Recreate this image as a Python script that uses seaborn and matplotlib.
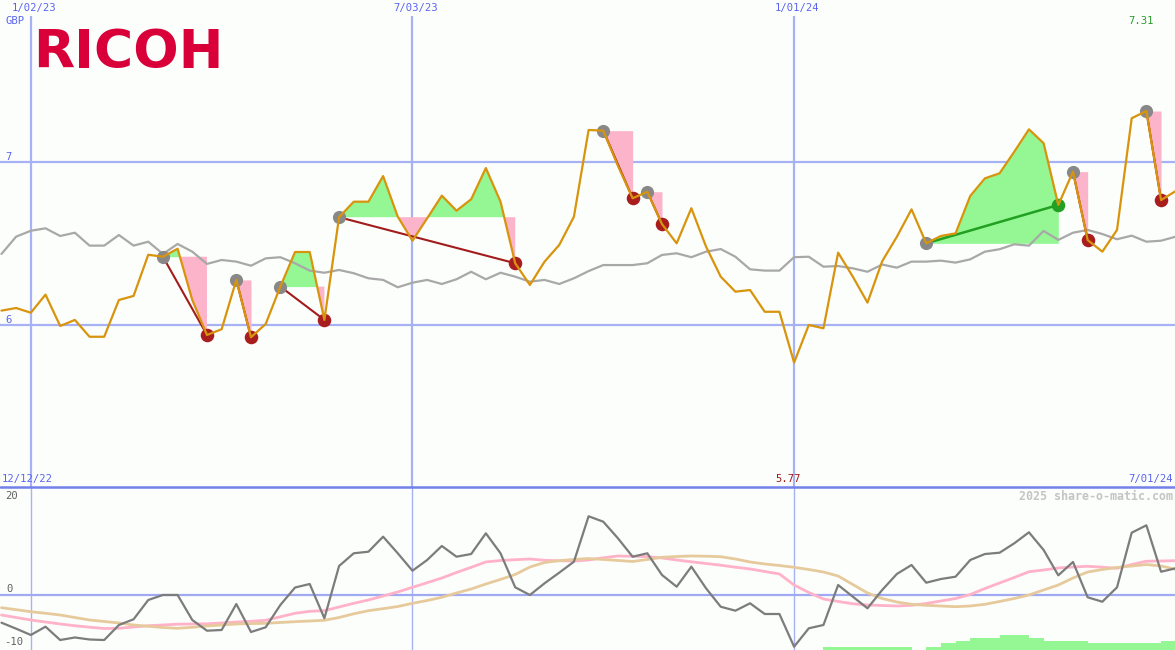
import numpy as np
import pandas as pd
import matplotlib
matplotlib.use("Agg")
import matplotlib.pyplot as plt
from matplotlib.lines import Line2D
import seaborn as sns

# ---------------- data (weekly points) ----------------
price = [6.088, 6.104, 6.075, 6.186, 5.994, 6.031, 5.928, 5.928, 6.153, 6.178,
         6.43, 6.418, 6.467, 6.153, 5.939, 5.974, 6.276, 5.925, 6.006, 6.235,
         6.447, 6.447, 6.031, 6.66, 6.755, 6.755, 6.912, 6.663, 6.516, 6.653,
         6.792, 6.7, 6.77, 6.961, 6.755, 6.378, 6.245, 6.388, 6.49, 6.663,
         7.194, 7.19, 6.974, 6.776, 6.816, 6.618, 6.5, 6.715, 6.48, 6.296,
         6.204, 6.214, 6.081, 6.081, 5.77, 6.0, 5.98, 6.443, 6.296, 6.137,
         6.39, 6.54, 6.708, 6.5, 6.545, 6.561, 6.79, 6.898, 6.929, 7.061,
         7.198, 7.113, 6.735, 6.939, 6.52, 6.449, 6.582, 7.266, 7.31, 6.765, 6.82]

avg = [6.435, 6.541, 6.577, 6.592, 6.545, 6.565, 6.486, 6.486, 6.551, 6.486,
       6.51, 6.435, 6.496, 6.449, 6.374, 6.398, 6.388, 6.363, 6.408, 6.415,
       6.378, 6.333, 6.32, 6.337, 6.317, 6.286, 6.276, 6.231, 6.259, 6.276,
       6.251, 6.28, 6.326, 6.28, 6.32, 6.296, 6.265, 6.276, 6.251, 6.286,
       6.33, 6.367, 6.367, 6.367, 6.378, 6.429, 6.439, 6.415, 6.449, 6.465,
       6.418, 6.341, 6.333, 6.333, 6.415, 6.418, 6.357, 6.361, 6.347, 6.326,
       6.37, 6.351, 6.388, 6.388, 6.394, 6.382, 6.402, 6.449, 6.464, 6.494,
       6.486, 6.576, 6.521, 6.565, 6.582, 6.557, 6.525, 6.547, 6.51, 6.516, 6.541]

osc = [-5.77, -7.02, -8.33, -6.6, -9.38, -8.85, -9.27, -9.38, -6.25, -5.06,
       -1.04, 0.0, 0.0, -5.21, -7.44, -7.29, -1.88, -7.71, -6.73, -2.08,
       1.56, 2.29, -4.85, 6.04, 8.69, 9.02, 12.15, 8.69, 5.06, 7.29,
       10.21, 7.98, 8.54, 12.85, 8.69, 1.6, 0.0, 2.44, 4.65, 6.94,
       16.4, 15.27, 11.81, 7.98, 8.69, 4.17, 1.73, 5.9, 1.4, -2.44,
       -3.27, -1.73, -3.96, -3.96, -10.77, -6.94, -6.25, 2.08, -0.35, -2.77,
       1.04, 4.38, 6.25, 2.56, 3.33, 3.81, 7.29, 8.54, 8.81, 10.77,
       13.06, 9.38, 4.1, 6.88, -0.48, -1.4, 1.6, 12.98, 14.52, 4.85, 5.56]

osc_fast = [-4.17, -4.69, -5.21, -5.63, -6.04, -6.4, -6.71, -6.98, -6.94, -6.67,
            -6.4, -6.25, -6.08, -6.04, -6.0, -5.83, -5.63, -5.48, -5.27, -4.54,
            -3.81, -3.4, -3.27, -2.5, -1.73, -1.04, -0.21, 0.63, 1.6, 2.56,
            3.54, 4.69, 5.77, 6.88, 7.19, 7.35, 7.5, 7.23, 7.13, 7.08,
            7.29, 7.75, 8.13, 8.06, 8.0, 7.71, 7.29, 6.92, 6.56, 6.21,
            5.79, 5.42, 4.9, 4.38, 2.08, 0.52, -0.83, -1.35, -1.83, -2.08,
            -2.19, -2.29, -2.15, -1.77, -1.25, -0.73, 0.1, 1.35, 2.5, 3.65,
            4.85, 5.21, 5.63, 5.83, 5.98, 5.79, 5.56, 6.35, 7.04, 7.08, 7.15]

osc_slow = [-2.65, -3.06, -3.48, -3.81, -4.17, -4.69, -5.21, -5.52, -5.83, -6.25,
            -6.52, -6.77, -6.94, -6.73, -6.46, -6.25, -6.04, -5.96, -5.9, -5.73,
            -5.56, -5.42, -5.27, -4.69, -3.92, -3.27, -2.85, -2.4, -1.73, -1.15,
            -0.48, 0.42, 1.25, 2.29, 3.25, 4.27, 5.83, 6.77, 7.15, 7.4,
            7.6, 7.4, 7.19, 6.98, 7.4, 7.85, 8.02, 8.13, 8.08, 7.98,
            7.5, 6.88, 6.46, 6.15, 5.77, 5.31, 4.79, 3.96, 2.19, 0.42,
            -0.73, -1.46, -1.94, -2.15, -2.29, -2.44, -2.29, -1.94, -1.35, -0.73,
            0.0, 1.04, 2.08, 3.54, 4.79, 5.31, 5.73, 6.04, 6.35, 6.04, 5.35]

signal = [0] * 56 + [0.63] * 6 + [0, 0.63, 1.4, 1.94, 2.56, 2.56, 3.19, 3.19, 2.56,
                                  1.94, 1.94, 1.94, 1.4, 1.4, 1.4, 1.4, 1.4, 1.94, 0]

trade_entry = [11, 16, 19, 23, 41, 44, 63, 73, 78]
trade_exit = [14, 17, 22, 35, 43, 45, 72, 74, 79]

date_ticks = [2, 28, 54]
date_labels = ["1/02/23", "7/03/23", "1/01/24"]
price_grid = [6, 7]
left_date, right_date = "12/12/22", "7/01/24"

# ---------------- figure ----------------
sns.set_theme(style="white")
plt.rcParams['font.family'] = ['DejaVu Sans Mono', 'DejaVu Sans']

W, H = 1175, 650
bg = "#fcfefc"
fig = plt.figure(figsize=(W / 100, H / 100), dpi=100)
fig.patch.set_facecolor(bg)
ax1 = fig.add_axes([0, 163 / H, 1, 471 / H])
ax2 = fig.add_axes([0, 0, 1, 163 / H])
n = len(price)
for ax in (ax1, ax2):
    ax.set_facecolor(bg)
    for s in ax.spines.values():
        s.set_visible(False)
    ax.set_xticks([])
    ax.set_yticks([])
    ax.set_xlim(-0.1, 79.95)
ax1.set_ylim(5.008, 7.892)
ax2.set_ylim(-11.46, 22.5)

grid_c = "#a6b2f4"
for g in price_grid:
    ax1.axhline(g, color=grid_c, lw=1.6, zorder=0)
for d in date_ticks:
    ax1.axvline(d, color=grid_c, lw=1.6, zorder=0)
    ax2.axvline(d, color=grid_c, lw=1.0, zorder=0)
ax2.axhline(0, color="#a0aaf2", lw=1.6, zorder=0)
fig.add_artist(Line2D([0, 1], [163.5 / H, 163.5 / H], color="#7282ea", lw=1.8,
                      transform=fig.transFigure))

df = pd.DataFrame({"i": np.arange(n), "price": price, "avg": avg, "osc": osc,
                   "fast": osc_fast, "slow": osc_slow, "signal": signal})

# trade fills
green_fill, pink_fill = "#94f794", "#fbb4ca"
p = np.array(price)
x = df["i"].to_numpy()
for a, b in zip(trade_entry, trade_exit):
    xs = x[a:b + 1]
    ps = p[a:b + 1]
    e = p[a]
    ax1.fill_between(xs, ps, e, where=ps >= e, interpolate=True, color=green_fill, lw=0, zorder=1)
    ax1.fill_between(xs, ps, e, where=ps <= e, interpolate=True, color=pink_fill, lw=0, zorder=1)

sns.lineplot(data=df, x="i", y="avg", ax=ax1, color="#a8a8a8", lw=1.6, zorder=2)

for a, b in zip(trade_entry, trade_exit):
    win = p[b] > p[a]
    lc = "#22a022" if win else "#a21c1c"
    ax1.plot([a, b], [p[a], p[b]], color=lc, lw=1.8 if win else 1.5, zorder=3)
    ax1.scatter([a], [p[a]], s=90, color="#888888", lw=0, zorder=3.5)
    ax1.scatter([b], [p[b]], s=95, color="#22a022" if win else "#a81e1e", lw=0, zorder=3.5)

sns.lineplot(data=df, x="i", y="price", ax=ax1, color="#d8940c", lw=1.6, zorder=4)

# lower panel
ax2.bar(df["i"], df["signal"], width=1.0, align="edge", bottom=ax2.get_ylim()[0],
        color=green_fill, lw=0, zorder=1)
sns.lineplot(data=df, x="i", y="fast", ax=ax2, color="#ffb2c8", lw=2.0, zorder=2)
sns.lineplot(data=df, x="i", y="slow", ax=ax2, color="#e6ca9c", lw=2.0, zorder=2.5)
sns.lineplot(data=df, x="i", y="osc", ax=ax2, color="#7c7c7c", lw=1.6, zorder=3)
for ax in (ax1, ax2):
    ax.set_xlabel("")
    ax.set_ylabel("")
    ax.set_xticks([])
    ax.set_yticks([])

# ---------------- texts ----------------
def ft(px, py, s, **kw):
    fig.text(px / W, 1 - py / H, s, **kw)

blue = "#5a64f0"
fs = 7.6
for d, lab in zip(date_ticks, date_labels):
    px = ax1.transData.transform((d, 0))[0]
    ft(px + 3, 8, lab, color=blue, fontsize=fs, ha="center", va="center")
ft(6, 21, "GBP", color=blue, fontsize=fs, ha="left", va="center")
for g in price_grid:
    py = H - ax1.transData.transform((0, g))[1]
    ft(5, py - 5, str(g), color=blue, fontsize=fs, ha="left", va="center")
ft(1128, 21, f"{max(price):.2f}", color="#2a9a2a", fontsize=fs, ha="left", va="center")
ft(33, 53, "RICOH", color="#d9003a", fontsize=38.5, fontweight="bold",
   family="DejaVu Sans", ha="left", va="center")

ft(2, 479, left_date, color=blue, fontsize=fs, ha="left", va="center")
imin = int(np.argmin(price))
pxmin = ax2.transData.transform((imin, 0))[0]
ft(pxmin - 6, 479, f"{min(price):.2f}", color="#a01818", fontsize=fs, ha="center", va="center")
ft(1173, 479, right_date, color=blue, fontsize=fs, ha="right", va="center")
ft(1173, 496, "2025 share-o-matic.com", color="#c4c4c4", fontsize=8.4,
   fontweight="bold", ha="right", va="center")
ft(5, 496, "20", color="#606060", fontsize=fs, ha="left", va="center")
ft(6, 589, "0", color="#606060", fontsize=fs, ha="left", va="center")
ft(4, 642, "-10", color="#606060", fontsize=fs, ha="left", va="center")

fig.savefig("out.png", dpi=100, facecolor=bg)
